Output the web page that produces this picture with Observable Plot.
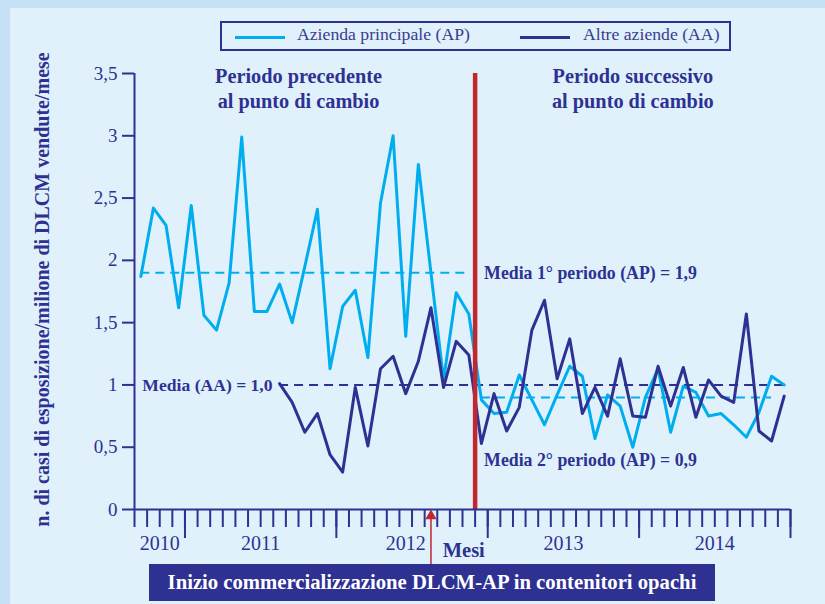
<!DOCTYPE html>
<html><head><meta charset="utf-8">
<script src="https://cdn.jsdelivr.net/npm/d3@7"></script>
<script src="https://cdn.jsdelivr.net/npm/@observablehq/plot@0.6"></script>
<style>
body{margin:0;width:825px;height:604px;background:#c6e1f6;position:relative;overflow:hidden;font-family:"Liberation Serif",serif;}
#panel{position:absolute;left:10px;top:8px;right:0;bottom:0;background:#e0f1fc;}
#chart{position:absolute;left:0;top:0;}
#legend{position:absolute;left:220px;top:21px;width:507px;height:26px;border:2px solid #2e3192;}
.sw{position:absolute;top:13px;height:3px;width:50px;}
.lt{position:absolute;top:1px;font-size:17.7px;color:#3a3d8e;white-space:nowrap;}
#box{position:absolute;left:149px;top:564px;width:566px;height:37px;background:#2e3192;color:#fff;font-weight:bold;font-size:20.7px;line-height:37px;text-align:center;white-space:nowrap;}
</style></head>
<body>
<div id="panel"></div>
<div id="chart"></div>
<div id="legend">
  <div class="sw" style="left:13px;background:#00aeef"></div>
  <div class="lt" style="left:75px">Azienda principale (AP)</div>
  <div class="sw" style="left:298px;background:#2e3192"></div>
  <div class="lt" style="left:361px">Altre aziende (AA)</div>
</div>
<div id="box">Inizio commercializzazione DLCM-AP in contenitori opachi</div>
<script>
// Months: Sep 2010 .. Dec 2014 (52 months)
const years = ["2010", "2011", "2012", "2013", "2014"];
const firstMonth = 9; // September 2010
const ap = [1.87, 2.42, 2.28, 1.62, 2.44, 1.56, 1.44, 1.82, 2.99, 1.59,
            1.59, 1.81, 1.50, 1.95, 2.41, 1.13, 1.63, 1.76, 1.22, 2.46,
            3.00, 1.39, 2.77, 1.90, 1.04, 1.74, 1.57, 0.88, 0.77, 0.78,
            1.08, 0.88, 0.68, 0.92, 1.15, 1.07, 0.57, 0.92, 0.83, 0.50,
            0.90, 1.13, 0.62, 0.99, 0.94, 0.75, 0.77, 0.68, 0.58, 0.78,
            1.07, 1.00];
const aa = [null, null, null, null, null, null, null, null, null, null,
            null, 1.01, 0.86, 0.62, 0.77, 0.44, 0.30, 0.98, 0.51, 1.13,
            1.23, 0.93, 1.19, 1.62, 0.98, 1.35, 1.24, 0.53, 0.93, 0.63,
            0.82, 1.44, 1.68, 1.05, 1.37, 0.77, 0.98, 0.75, 1.21, 0.75,
            0.74, 1.15, 0.83, 1.14, 0.74, 1.04, 0.91, 0.86, 1.57, 0.63,
            0.55, 0.91];
const yTicks = [0, 0.5, 1, 1.5, 2, 2.5, 3, 3.5];
const meanAP1 = 1.9, meanAP2 = 0.9, meanAA = 1.0;
const changeIndex = 27;   // first month of the second period (Dec 2012)
const eventIndex = 23;    // Aug 2012: start of opaque containers

const navy = "#2e3192", light = "#00aeef", red = "#c1272d";
const n = ap.length;
const apData = ap.map((v, i) => ({x: i + 0.5, y: v}));
const aaData = aa.map((v, i) => ({x: i + 0.5, y: v})).filter(d => d.y != null);
const firstAA = aaData[0].x;
const boundaries = d3.range(0, n + 1);
const yearStarts = boundaries.filter(b => (firstMonth - 1 + b) % 12 === 0);
const yearLabels = years.map((t, k) => {
  const end = yearStarts[k] !== undefined ? yearStarts[k] : n;
  const start = Math.max(0, end - 12);
  return {t, x: (start + end) / 2 - (k === 2 ? 0.5 : 0)};
});
const fmt = v => String(v).replace(".", ",");

const chart = Plot.plot({
  width: 825, height: 604,
  marginLeft: 134, marginRight: 35, marginTop: 73, marginBottom: 95,
  style: {fontFamily: "Liberation Serif, serif", color: navy, background: "transparent", overflow: "visible"},
  x: {domain: [0, n], axis: null},
  y: {domain: [0, 3.5], axis: null},
  marks: [
    // mean lines
    Plot.ruleY([meanAP1], {x1: 0.5, x2: changeIndex - 0.5, stroke: light, strokeWidth: 2, strokeDasharray: "9,6"}),
    Plot.ruleY([meanAP2], {x1: changeIndex + 0.5, x2: n - 1.5, stroke: light, strokeWidth: 2, strokeDasharray: "9,6"}),
    Plot.ruleY([meanAA], {x1: firstAA, x2: n - 0.5, stroke: navy, strokeWidth: 2, strokeDasharray: "9,6"}),
    // series
    Plot.line(apData, {x: "x", y: "y", stroke: light, strokeWidth: 3}),
    Plot.line(aaData, {x: "x", y: "y", stroke: navy, strokeWidth: 3}),
    // change point
    Plot.ruleX([changeIndex], {y1: 0, y2: 3.5, stroke: red, strokeWidth: 4.5}),
    // axes
    Plot.axisY({ticks: yTicks, tickSize: 12, tickPadding: 5, tickFormat: fmt, fontSize: 19, stroke: navy, strokeWidth: 2, fill: navy, label: null}),
    Plot.axisX({ticks: boundaries, tickSize: 18, tickFormat: () => "", stroke: navy, strokeWidth: 2, label: null}),
    Plot.axisX({ticks: yearStarts, tickSize: 29, tickFormat: () => "", stroke: navy, strokeWidth: 2, label: null}),
    Plot.ruleX([0], {y1: 0, y2: 3.5, stroke: navy, strokeWidth: 2}),
    Plot.ruleY([0], {x1: 0, x2: n, stroke: navy, strokeWidth: 2}),
    Plot.text(yearLabels, {x: "x", y: 0, text: "t", dy: 34, fontSize: 20, fill: navy}),
    Plot.text(["Mesi"], {x: eventIndex + 3.1, y: 0, dy: 41, fontSize: 20.5, fontWeight: "bold", fill: navy}),
    // event arrow
    Plot.ruleX([eventIndex + 0.5], {y1: 0, y2: 0, insetTop: 10, insetBottom: -55, stroke: red, strokeWidth: 1.5}),
    Plot.dot([eventIndex + 0.5], {x: d => d, y: 0, dy: 6.5, symbol: "triangle", r: 4.2, fill: red, stroke: null}),
    // annotations
    Plot.text(["Periodo precedente\nal punto di cambio"], {x: 13, y: 3.5, lineAnchor: "top", dy: -9, fontSize: 20.3, fontWeight: "bold", fill: navy, lineHeight: 1.25}),
    Plot.text(["Periodo successivo\nal punto di cambio"], {x: 39.5, y: 3.5, lineAnchor: "top", dy: -9, fontSize: 20.3, fontWeight: "bold", fill: navy, lineHeight: 1.25}),
    Plot.text([`Media 1° periodo (AP) = ${fmt(meanAP1)}`], {x: changeIndex, y: meanAP1, dx: 9, textAnchor: "start", fontSize: 17.8, fontWeight: "bold", fill: navy}),
    Plot.text([`Media 2° periodo (AP) = ${fmt(meanAP2)}`], {x: changeIndex, y: meanAP2, dx: 9, dy: 63, textAnchor: "start", fontSize: 17.8, fontWeight: "bold", fill: navy}),
    Plot.text([`Media (AA) = ${fmt(meanAA.toFixed(1))}`], {x: firstAA, y: meanAA, dx: -7, textAnchor: "end", fontSize: 17.6, fontWeight: "bold", fill: navy}),
    Plot.text(["n. di casi di esposizione/milione di DLCM vendute/mese"], {frameAnchor: "left", dx: -92, dy: -2, rotate: -90, textAnchor: "middle", fontSize: 20, fontWeight: "bold", fill: navy})
  ]
});
document.getElementById("chart").appendChild(chart);
</script>
</body></html>
